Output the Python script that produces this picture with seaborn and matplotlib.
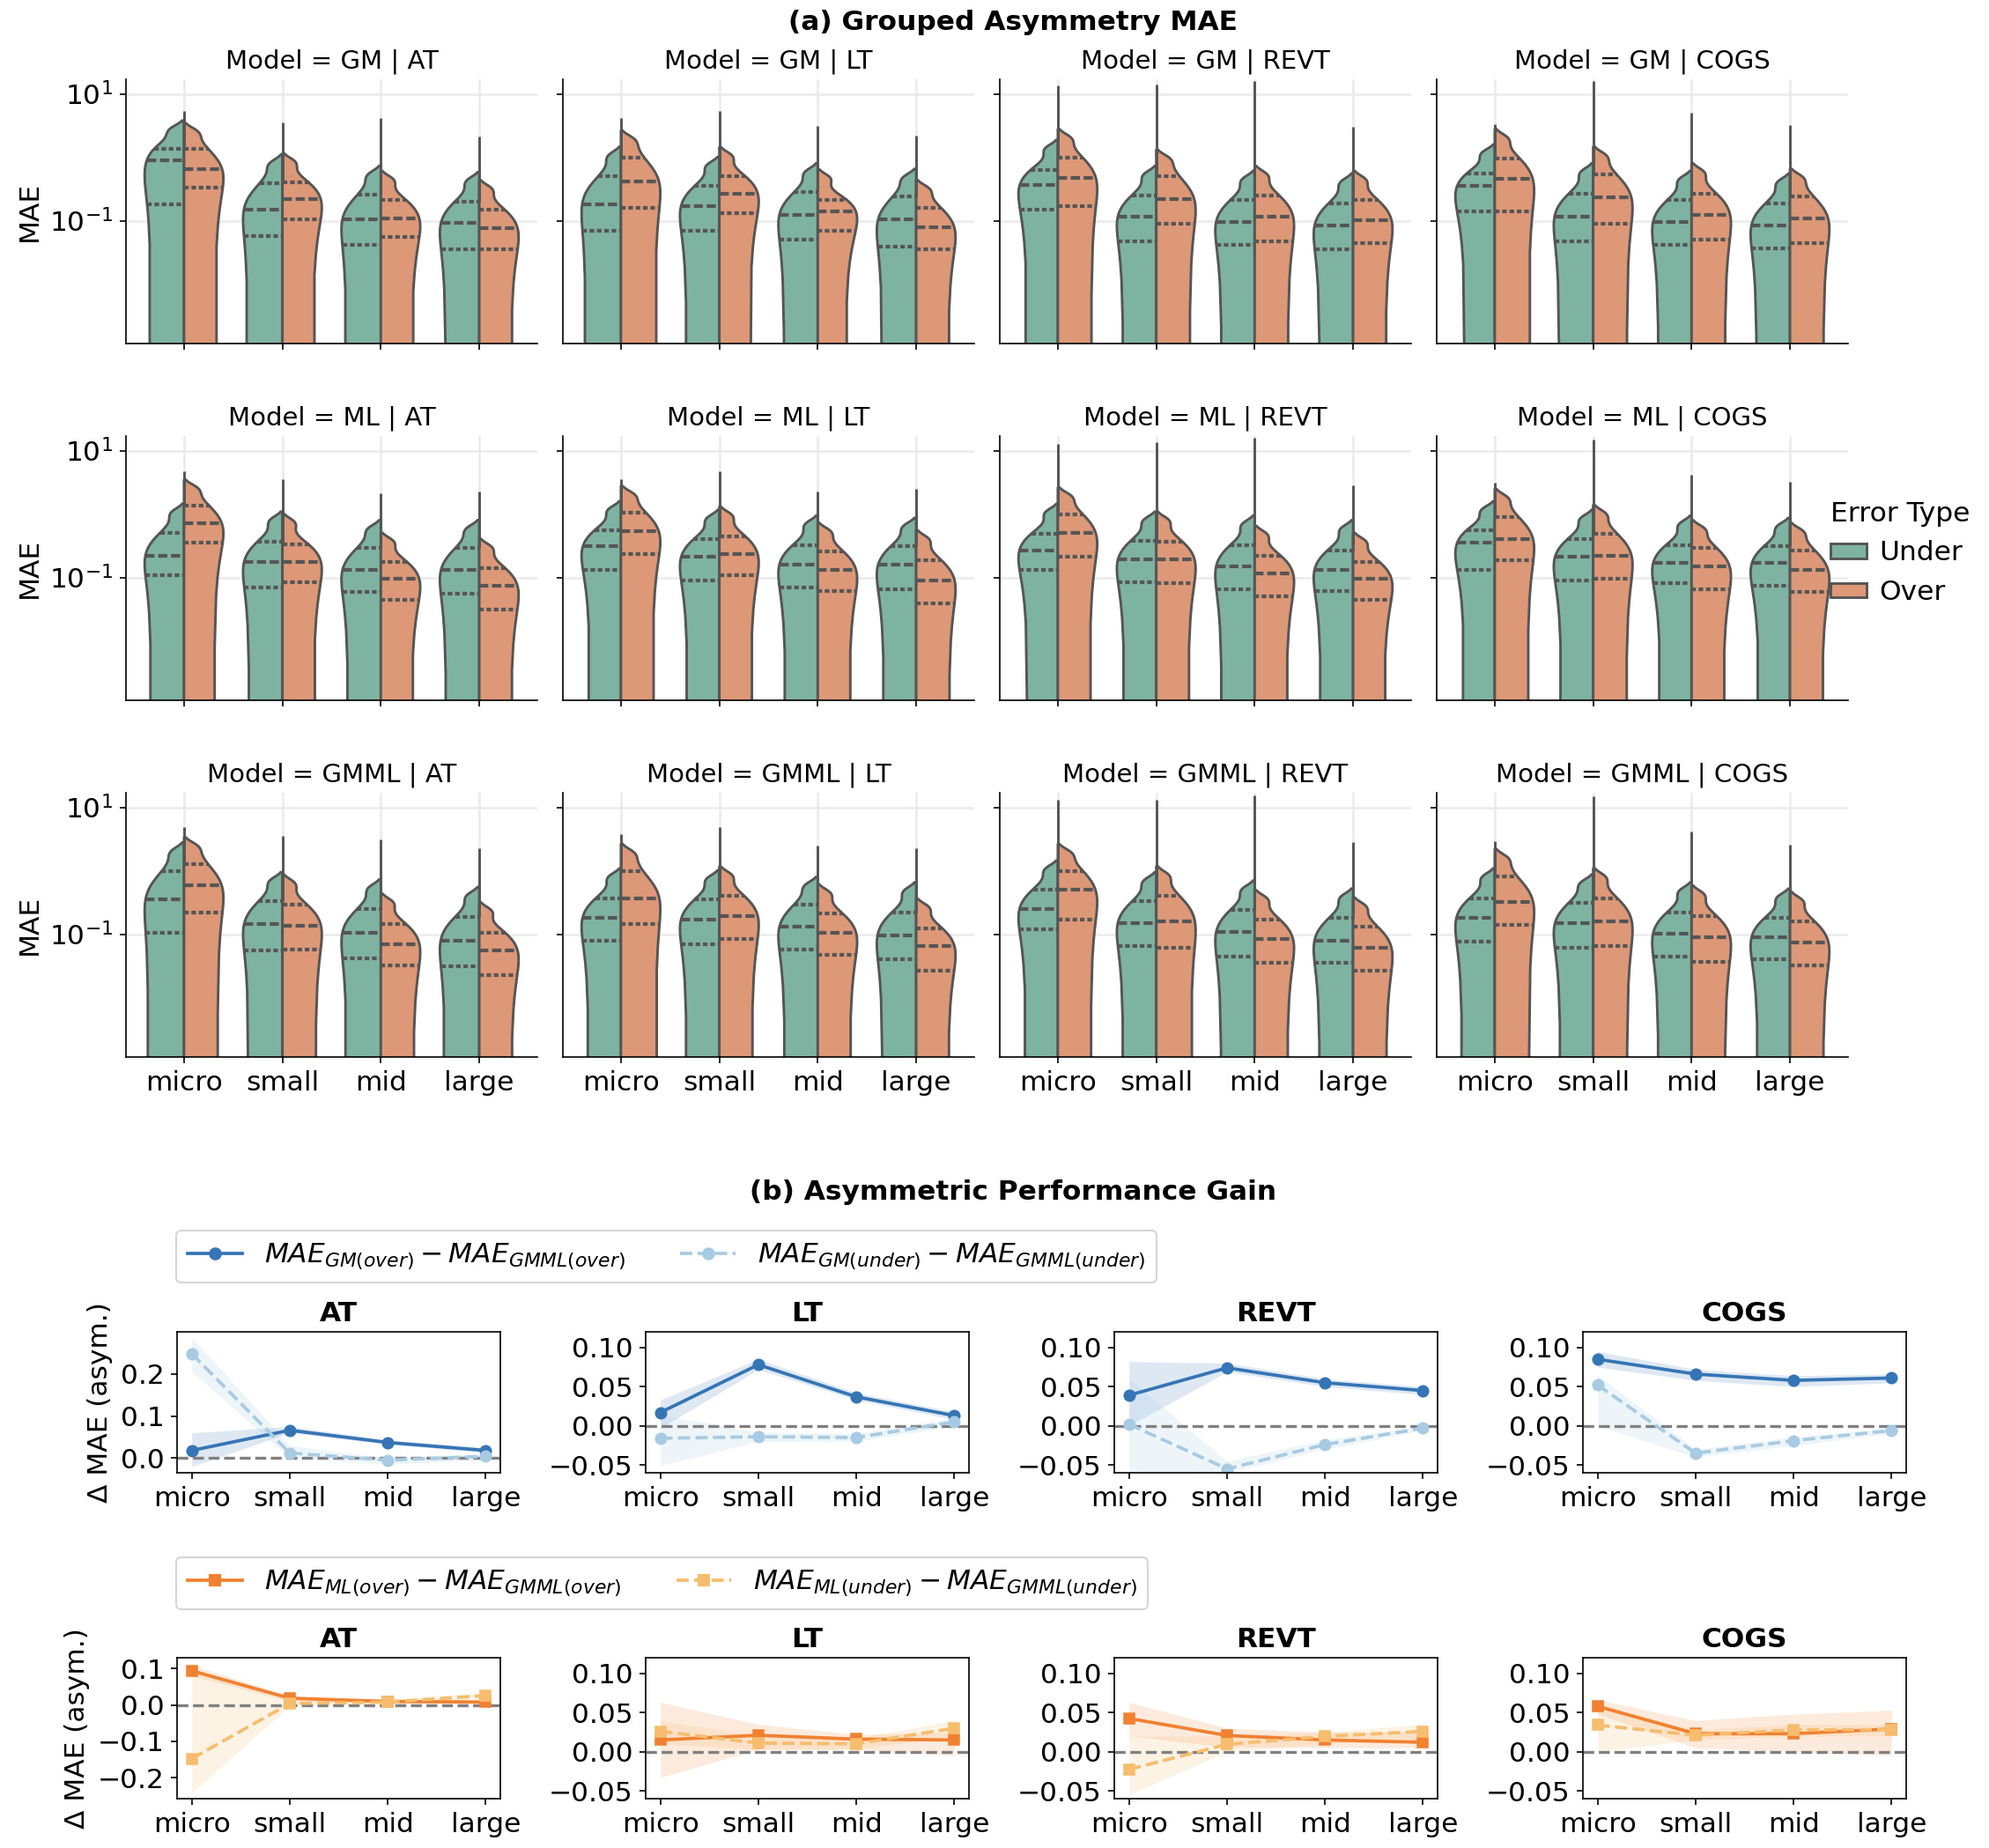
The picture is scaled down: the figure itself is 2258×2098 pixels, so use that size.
import numpy as np
import pandas as pd
import matplotlib
matplotlib.use("Agg")
import matplotlib.pyplot as plt
import seaborn as sns
from matplotlib.lines import Line2D
from matplotlib.patches import Patch
from matplotlib.ticker import FixedLocator, NullLocator

SIZES = ["micro", "small", "mid", "large"]
TARGETS = ["AT", "LT", "REVT", "COGS"]
MODELS = ["GM", "ML", "GMML"]
ERR_TYPES = ["Under", "Over"]

# (a) violin samples per size: [low, q1, median, q3, high]  (MAE values)
GM_AT_UNDER = [[0.04, 0.18, 0.91, 1.35, 2.6], [0.015, 0.058, 0.15, 0.39, 0.75], [0.01, 0.042, 0.104, 0.26, 0.5], [0.009, 0.035, 0.092, 0.2, 0.4]]
GM_AT_OVER = [[0.08, 0.33, 0.66, 1.35, 2.4], [0.025, 0.105, 0.22, 0.40, 0.8], [0.014, 0.055, 0.108, 0.21, 0.42], [0.009, 0.035, 0.076, 0.15, 0.3]]
GM_AT_SPIKE = [5.3, 3.6, 4.2, 2.1]
GM_LT_UNDER = [[0.018, 0.07, 0.18, 0.5, 1.0], [0.018, 0.07, 0.17, 0.35, 0.7], [0.013, 0.051, 0.123, 0.28, 0.55], [0.01, 0.039, 0.104, 0.24, 0.45]]
GM_LT_OVER = [[0.04, 0.16, 0.42, 1.0, 1.8], [0.033, 0.133, 0.27, 0.5, 1.0], [0.018, 0.07, 0.14, 0.21, 0.45], [0.009, 0.035, 0.08, 0.16, 0.3]]
GM_LT_SPIKE = [4.1, 5.3, 3.1, 2.2]
GM_REVT_UNDER = [[0.04, 0.15, 0.37, 0.63, 1.3], [0.012, 0.048, 0.117, 0.25, 0.5], [0.01, 0.042, 0.097, 0.21, 0.42], [0.009, 0.035, 0.085, 0.19, 0.38]]
GM_REVT_OVER = [[0.045, 0.17, 0.48, 1.0, 1.9], [0.023, 0.091, 0.22, 0.5, 0.9], [0.012, 0.048, 0.117, 0.25, 0.5], [0.011, 0.045, 0.103, 0.21, 0.42]]
GM_REVT_SPIKE = [13.8, 14.0, 16.0, 3.0]
GM_COGS_UNDER = [[0.035, 0.14, 0.35, 0.55, 1.1], [0.012, 0.048, 0.116, 0.27, 0.55], [0.01, 0.042, 0.097, 0.21, 0.42], [0.009, 0.037, 0.085, 0.19, 0.38]]
GM_COGS_OVER = [[0.035, 0.14, 0.46, 0.97, 1.9], [0.023, 0.091, 0.235, 0.53, 1.0], [0.013, 0.051, 0.125, 0.27, 0.55], [0.011, 0.045, 0.108, 0.24, 0.45]]
GM_COGS_SPIKE = [3.3, 15.8, 5.0, 3.2]

ML_AT_UNDER = [[0.028, 0.11, 0.22, 0.51, 1.0], [0.018, 0.07, 0.174, 0.37, 0.75], [0.015, 0.059, 0.133, 0.29, 0.55], [0.014, 0.055, 0.133, 0.29, 0.55]]
ML_AT_OVER = [[0.09, 0.35, 0.71, 1.35, 2.4], [0.021, 0.085, 0.174, 0.33, 0.7], [0.011, 0.045, 0.097, 0.174, 0.35], [0.008, 0.031, 0.075, 0.14, 0.28]]
ML_AT_SPIKE = [4.8, 3.5, 2.1, 2.3]
ML_LT_UNDER = [[0.033, 0.133, 0.31, 0.55, 1.1], [0.022, 0.09, 0.21, 0.40, 0.8], [0.018, 0.07, 0.16, 0.32, 0.65], [0.016, 0.065, 0.16, 0.31, 0.6]]
ML_LT_OVER = [[0.06, 0.235, 0.54, 1.05, 1.9], [0.027, 0.109, 0.235, 0.45, 0.9], [0.015, 0.062, 0.133, 0.26, 0.5], [0.01, 0.039, 0.09, 0.19, 0.38]]
ML_LT_SPIKE = [3.6, 4.8, 2.3, 2.5]
ML_REVT_UNDER = [[0.033, 0.133, 0.27, 0.49, 1.0], [0.021, 0.085, 0.195, 0.38, 0.75], [0.016, 0.065, 0.15, 0.32, 0.65], [0.015, 0.062, 0.133, 0.27, 0.55]]
ML_REVT_OVER = [[0.05, 0.21, 0.51, 0.98, 1.8], [0.02, 0.081, 0.195, 0.37, 0.75], [0.013, 0.051, 0.117, 0.22, 0.45], [0.011, 0.045, 0.097, 0.176, 0.35]]
ML_REVT_SPIKE = [12.8, 13.8, 15.8, 2.8]
ML_COGS_UNDER = [[0.033, 0.133, 0.35, 0.55, 1.1], [0.022, 0.09, 0.21, 0.40, 0.8], [0.02, 0.081, 0.17, 0.32, 0.65], [0.019, 0.075, 0.17, 0.31, 0.6]]
ML_COGS_OVER = [[0.048, 0.19, 0.40, 0.91, 1.7], [0.024, 0.097, 0.22, 0.49, 0.95], [0.016, 0.065, 0.15, 0.29, 0.55], [0.015, 0.059, 0.133, 0.27, 0.5]]
ML_COGS_SPIKE = [3.1, 15.0, 4.1, 3.2]

GMML_AT_UNDER = [[0.026, 0.104, 0.35, 0.98, 1.9], [0.014, 0.055, 0.144, 0.33, 0.65], [0.01, 0.042, 0.104, 0.25, 0.5], [0.008, 0.031, 0.08, 0.19, 0.38]]
GMML_AT_OVER = [[0.055, 0.22, 0.59, 1.29, 2.3], [0.015, 0.058, 0.135, 0.29, 0.6], [0.008, 0.032, 0.07, 0.144, 0.3], [0.006, 0.023, 0.055, 0.104, 0.22]]
GMML_AT_SPIKE = [4.9, 3.6, 3.1, 2.3]
GMML_LT_UNDER = [[0.02, 0.08, 0.18, 0.37, 0.75], [0.018, 0.07, 0.17, 0.35, 0.7], [0.015, 0.058, 0.133, 0.29, 0.55], [0.01, 0.04, 0.097, 0.22, 0.45]]
GMML_LT_OVER = [[0.036, 0.144, 0.37, 0.98, 1.8], [0.021, 0.085, 0.195, 0.40, 0.8], [0.012, 0.048, 0.104, 0.21, 0.42], [0.007, 0.027, 0.066, 0.125, 0.25]]
GMML_LT_SPIKE = [3.8, 4.9, 2.5, 2.3]
GMML_REVT_UNDER = [[0.03, 0.118, 0.25, 0.51, 1.0], [0.017, 0.066, 0.15, 0.33, 0.65], [0.011, 0.044, 0.11, 0.24, 0.48], [0.009, 0.035, 0.08, 0.18, 0.36]]
GMML_REVT_OVER = [[0.042, 0.17, 0.51, 0.98, 1.8], [0.015, 0.061, 0.16, 0.40, 0.8], [0.009, 0.035, 0.085, 0.17, 0.34], [0.007, 0.027, 0.061, 0.133, 0.26]]
GMML_REVT_SPIKE = [13.3, 13.3, 15.5, 2.8]
GMML_COGS_UNDER = [[0.019, 0.076, 0.18, 0.37, 0.75], [0.015, 0.061, 0.15, 0.31, 0.6], [0.011, 0.044, 0.102, 0.22, 0.45], [0.01, 0.04, 0.091, 0.18, 0.36]]
GMML_COGS_OVER = [[0.035, 0.14, 0.32, 0.81, 1.5], [0.017, 0.066, 0.16, 0.37, 0.75], [0.009, 0.037, 0.091, 0.195, 0.4], [0.008, 0.032, 0.074, 0.16, 0.32]]
GMML_COGS_SPIKE = [2.9, 14.8, 4.2, 2.6]

# (b) asymmetric gain, rows = AT, LT, REVT, COGS ; columns = sizes
GM_OVER_GAIN = [[0.018, 0.066, 0.037, 0.018], [0.017, 0.078, 0.037, 0.013], [0.039, 0.074, 0.055, 0.045], [0.085, 0.066, 0.058, 0.061]]
GM_OVER_LO = [[-0.02, 0.06, 0.033, 0.013], [-0.003, 0.072, 0.033, 0.008], [0.0, 0.069, 0.05, 0.04], [0.075, 0.058, 0.05, 0.055]]
GM_OVER_HI = [[0.06, 0.075, 0.043, 0.025], [0.033, 0.085, 0.042, 0.018], [0.082, 0.08, 0.06, 0.05], [0.095, 0.072, 0.064, 0.066]]
GM_UNDER_GAIN = [[0.248, 0.012, -0.005, 0.004], [-0.016, -0.014, -0.015, 0.005], [0.002, -0.055, -0.024, -0.003], [0.052, -0.035, -0.019, -0.006]]
GM_UNDER_LO = [[0.206, 0.0, -0.015, -0.005], [-0.051, -0.02, -0.02, 0.0], [-0.058, -0.06, -0.03, -0.006], [0.0, -0.04, -0.025, -0.01]]
GM_UNDER_HI = [[0.287, 0.03, 0.0, 0.012], [0.014, -0.008, -0.01, 0.01], [0.06, -0.045, -0.018, 0.0], [0.065, -0.03, -0.014, -0.003]]
ML_OVER_GAIN = [[0.094, 0.0185, 0.0097, 0.008], [0.015, 0.021, 0.016, 0.015], [0.0425, 0.0207, 0.015, 0.012], [0.058, 0.023, 0.023, 0.029]]
ML_OVER_LO = [[0.08, 0.01, 0.005, 0.003], [-0.033, 0.003, 0.003, -0.005], [0.02, 0.006, 0.005, 0.005], [0.048, 0.005, 0.0, -0.005]]
ML_OVER_HI = [[0.11, 0.025, 0.013, 0.012], [0.063, 0.035, 0.022, 0.025], [0.063, 0.03, 0.025, 0.025], [0.066, 0.04, 0.048, 0.053]]
ML_UNDER_GAIN = [[-0.148, 0.004, 0.008, 0.026], [0.026, 0.011, 0.010, 0.030], [-0.0226, 0.0094, 0.0195, 0.026], [0.034, 0.021, 0.028, 0.028]]
ML_UNDER_LO = [[-0.242, -0.003, 0.0, 0.015], [0.01, 0.003, 0.003, 0.02], [-0.055, 0.0, 0.01, 0.015], [0.0, 0.015, 0.02, 0.02]]
ML_UNDER_HI = [[0.093, 0.012, 0.015, 0.035], [0.04, 0.02, 0.017, 0.04], [0.02, 0.02, 0.025, 0.035], [0.06, 0.028, 0.035, 0.035]]

VIOLINS = {
    ("GM", "AT"): (GM_AT_UNDER, GM_AT_OVER, GM_AT_SPIKE),
    ("GM", "LT"): (GM_LT_UNDER, GM_LT_OVER, GM_LT_SPIKE),
    ("GM", "REVT"): (GM_REVT_UNDER, GM_REVT_OVER, GM_REVT_SPIKE),
    ("GM", "COGS"): (GM_COGS_UNDER, GM_COGS_OVER, GM_COGS_SPIKE),
    ("ML", "AT"): (ML_AT_UNDER, ML_AT_OVER, ML_AT_SPIKE),
    ("ML", "LT"): (ML_LT_UNDER, ML_LT_OVER, ML_LT_SPIKE),
    ("ML", "REVT"): (ML_REVT_UNDER, ML_REVT_OVER, ML_REVT_SPIKE),
    ("ML", "COGS"): (ML_COGS_UNDER, ML_COGS_OVER, ML_COGS_SPIKE),
    ("GMML", "AT"): (GMML_AT_UNDER, GMML_AT_OVER, GMML_AT_SPIKE),
    ("GMML", "LT"): (GMML_LT_UNDER, GMML_LT_OVER, GMML_LT_SPIKE),
    ("GMML", "REVT"): (GMML_REVT_UNDER, GMML_REVT_OVER, GMML_REVT_SPIKE),
    ("GMML", "COGS"): (GMML_COGS_UNDER, GMML_COGS_OVER, GMML_COGS_SPIKE),
}

rows = []
for (m, t), (under, over, _) in VIOLINS.items():
    for etype, arr in (("Under", under), ("Over", over)):
        for size, vals in zip(SIZES, arr):
            for v in vals:
                rows.append((m, t, size, etype, v))
df = pd.DataFrame(rows, columns=["Model", "Target", "Size", "Error Type", "MAE"])

plt.rcParams["font.size"] = 15
W, H = 2258, 2098
fig = plt.figure(figsize=(W / 150, H / 150), dpi=150)


def box(x, top, w, h):
    return [x / W, 1 - (top + h) / H, w / W, h / H]


# ---------------- (a) grouped asymmetry MAE ----------------
fig.text(1150 / W, 1 - 26 / H, "(a) Grouped Asymmetry MAE", ha="center", va="center",
         fontsize=15, fontweight="bold")
VIOLIN_COLORS = ["#7fb3a1", "#dd9877"]
EDGE = "#555555"
LW = 1.4
for r, m in enumerate(MODELS):
    for c, t in enumerate(TARGETS):
        ax = fig.add_axes(box(143 + c * 496, 90 + r * 405, 467, 300))
        sub = df[(df["Model"] == m) & (df["Target"] == t)]
        sns.violinplot(data=sub, x="Size", y="MAE", hue="Error Type", order=SIZES,
                       hue_order=ERR_TYPES, split=True, inner="quart", palette=VIOLIN_COLORS,
                       saturation=1, density_norm="width", bw_adjust=0.8, linewidth=LW,
                       linecolor=EDGE, inner_kws={"linewidth": 2.0, "color": EDGE},
                       ax=ax, legend=False)
        under, over, spike = VIOLINS[(m, t)]
        q3 = [max(u[3], o[3]) for u, o in zip(under, over)]
        ax.vlines(np.arange(len(SIZES)), q3, spike, color=EDGE, lw=LW, zorder=3)
        ax.set_yscale("log")
        ax.set_ylim(1.16e-3, 17)
        ax.yaxis.set_major_locator(FixedLocator([0.1, 10]))
        ax.yaxis.set_minor_locator(NullLocator())
        ax.grid(True, color="#ebebeb", lw=1.2)
        ax.set_axisbelow(True)
        sns.despine(ax=ax)
        ax.set_title(f"Model = {m} | {t}", fontsize=14)
        ax.set_xlabel("")
        ax.set_ylabel("MAE" if c == 0 else "")
        if c > 0:
            ax.tick_params(axis="y", labelleft=False)
        if r < 2:
            ax.tick_params(axis="x", labelbottom=False)

handles = [Patch(facecolor=VIOLIN_COLORS[i], edgecolor=EDGE, lw=LW) for i in range(2)]
fig.legend(handles, ERR_TYPES, title="Error Type", frameon=False, loc="center left",
           bbox_to_anchor=(2050 / W, 1 - 628 / H), fontsize=15, title_fontsize=15,
           handlelength=1.3, handleheight=0.45, handletextpad=0.45, alignment="left")

# ---------------- (b) asymmetric performance gain ----------------
fig.text(1150 / W, 1 - 1354 / H, "(b) Asymmetric Performance Gain", ha="center", va="center",
         fontsize=15, fontweight="bold")

LINE_ROWS = [
    ("GM", GM_OVER_GAIN, GM_OVER_LO, GM_OVER_HI, GM_UNDER_GAIN, GM_UNDER_LO, GM_UNDER_HI,
     "#3575b6", "#a6cbe3", "o"),
    ("ML", ML_OVER_GAIN, ML_OVER_LO, ML_OVER_HI, ML_UNDER_GAIN, ML_UNDER_LO, ML_UNDER_HI,
     "#f08130", "#f7bd6e", "s"),
]
tops = [1512, 1882]
legend_tops = [1397, 1768]
for r, (m, og, olo, ohi, ug, ulo, uhi, c_dark, c_light, mk) in enumerate(LINE_ROWS):
    for c, t in enumerate(TARGETS):
        ax = fig.add_axes(box(201 + c * 532, tops[r], 367, 160))
        xs = np.arange(len(SIZES))
        ax.fill_between(xs, olo[c], ohi[c], color=c_dark, alpha=0.16, lw=0)
        ax.fill_between(xs, ulo[c], uhi[c], color=c_light, alpha=0.18, lw=0)
        sns.lineplot(x=xs, y=og[c], color=c_dark, marker=mk, markersize=6, lw=1.8,
                     markeredgecolor=c_dark, ax=ax)
        sns.lineplot(x=xs, y=ug[c], color=c_light, marker=mk, markersize=6, lw=1.8,
                     linestyle="--", markeredgecolor=c_light, ax=ax)
        ax.axhline(0, color="gray", ls="--", lw=1.6, zorder=1)
        ax.set_xticks(xs)
        ax.set_xticklabels(SIZES)
        if c == 0:
            if r == 0:
                ax.set_ylim(-0.035, 0.30)
                ax.set_yticks([0.0, 0.1, 0.2])
            else:
                ax.set_ylim(-0.258, 0.13)
                ax.set_yticks([-0.2, -0.1, 0.0, 0.1])
            ax.set_ylabel("Δ MAE (asym.)")
        else:
            ax.set_ylim(-0.06, 0.12)
            ax.set_yticks([-0.05, 0.0, 0.05, 0.10])
        ax.set_title(t, fontsize=15, fontweight="bold")
    lh = [Line2D([], [], color=c_dark, marker=mk, lw=1.8, markersize=6),
          Line2D([], [], color=c_light, marker=mk, lw=1.8, ls="--", markersize=6)]
    labels = [rf"$MAE_{{{m}(over)}} - MAE_{{GMML(over)}}$",
              rf"$MAE_{{{m}(under)}} - MAE_{{GMML(under)}}$"]
    fig.legend(lh, labels, ncol=2, loc="upper left", bbox_to_anchor=(200 / W, 1 - legend_tops[r] / H),
               borderaxespad=0, fontsize=15, frameon=True)

fig.savefig("out.png", dpi=150)
